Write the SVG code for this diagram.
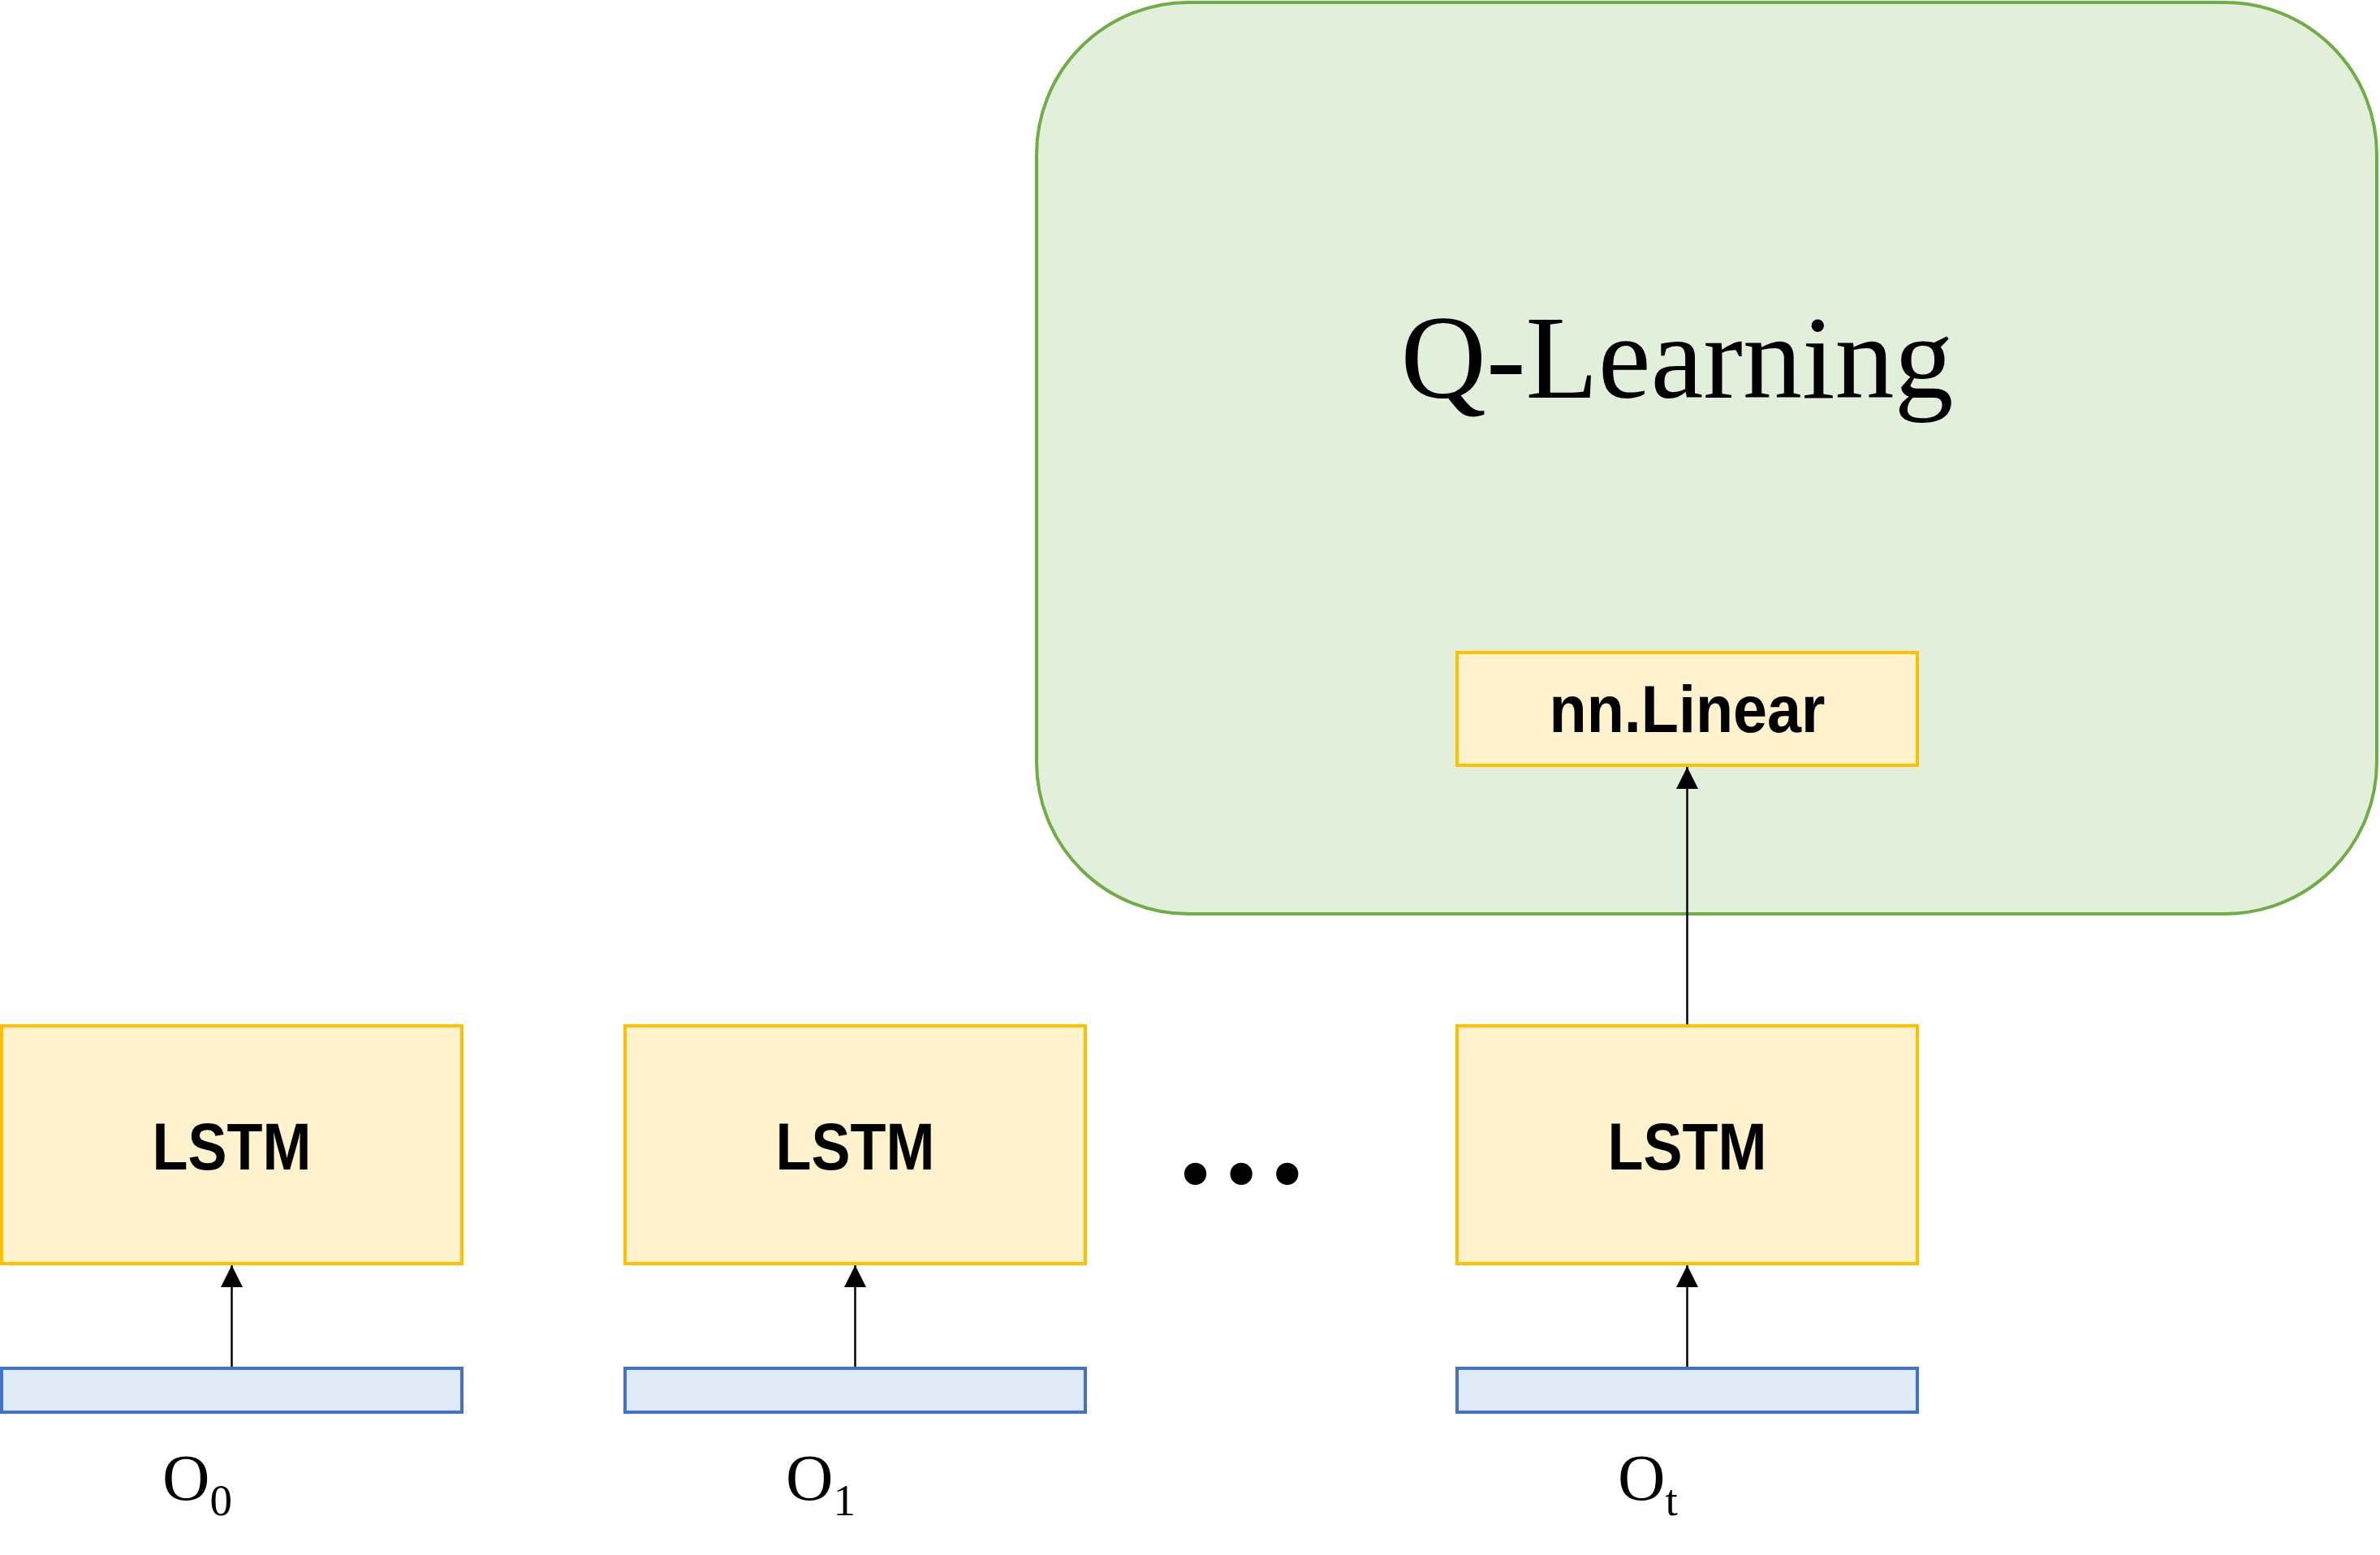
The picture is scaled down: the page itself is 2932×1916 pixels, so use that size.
<svg xmlns="http://www.w3.org/2000/svg" width="2932" height="1916" viewBox="0 0 2932 1916">
<style>
.lstm{fill:#FFF2CC;stroke:#FFC000;stroke-width:4}
.inp{fill:#DEEAF6;stroke:#4472C4;stroke-width:4}
.lbl{font-family:"Liberation Sans",Arial,sans-serif;font-weight:bold;font-size:81px;fill:#000;text-anchor:middle}
.obs{font-family:"Liberation Serif","Times New Roman",serif;font-size:81px;fill:#000}
.conn{stroke:#000;stroke-width:2.5;fill:none;marker-end:url(#arr)}
</style>
<defs>
<marker id="arr" markerUnits="userSpaceOnUse" markerWidth="28" markerHeight="28" refX="27" refY="13.5" orient="auto">
<path d="M0,0 L27,13.5 L0,27 z" fill="#000"/>
</marker>
</defs>
<rect width="2932" height="1916" fill="#fff"/>
<g id="qlearning">
<rect x="1277" y="3" width="1651" height="1123" rx="187" ry="187" fill="#E2EFDA" stroke="#70AD47" stroke-width="4"/>
<text x="2066" y="490" font-family="'Liberation Serif','Times New Roman',serif" font-size="146" text-anchor="middle" fill="#000">Q-Learning</text>
</g>
<g id="linear">
<rect class="lstm" x="1795" y="804" width="567" height="139"/>
<text class="lbl" x="2078.5" y="902" textLength="340" lengthAdjust="spacingAndGlyphs">nn.Linear</text>
</g>
<g id="lstm0">
<rect class="lstm" x="2" y="1264" width="567" height="293"/>
<text class="lbl" x="285.5" y="1441" textLength="196" lengthAdjust="spacingAndGlyphs">LSTM</text>
</g>
<g id="lstm1">
<rect class="lstm" x="770" y="1264" width="567" height="293"/>
<text class="lbl" x="1053.5" y="1441" textLength="196" lengthAdjust="spacingAndGlyphs">LSTM</text>
</g>
<g id="lstmt">
<rect class="lstm" x="1795" y="1264" width="567" height="293"/>
<text class="lbl" x="2078.5" y="1441" textLength="196" lengthAdjust="spacingAndGlyphs">LSTM</text>
</g>
<g id="dots">
<text x="1529" y="1458" font-family="'Liberation Serif','Times New Roman',serif" font-weight="bold" font-size="168" text-anchor="middle" fill="#000">…</text>
</g>
<g id="in0">
<rect class="inp" x="2" y="1686" width="567" height="54"/>
<text class="obs" x="200" y="1848">O<tspan dy="19" font-size="55">0</tspan></text>
</g>
<g id="in1">
<rect class="inp" x="770" y="1686" width="567" height="54"/>
<text class="obs" x="968" y="1848">O<tspan dy="19" font-size="55">1</tspan></text>
</g>
<g id="int">
<rect class="inp" x="1795" y="1686" width="567" height="54"/>
<text class="obs" x="1993" y="1848">O<tspan dy="19" font-size="55">t</tspan></text>
</g>
<g id="connectors">
<line class="conn" x1="285.5" y1="1684" x2="285.5" y2="1559"/>
<line class="conn" x1="1053.5" y1="1684" x2="1053.5" y2="1559"/>
<line class="conn" x1="2078.5" y1="1684" x2="2078.5" y2="1559"/>
<line class="conn" x1="2078.5" y1="1262" x2="2078.5" y2="945"/>
</g>
</svg>
